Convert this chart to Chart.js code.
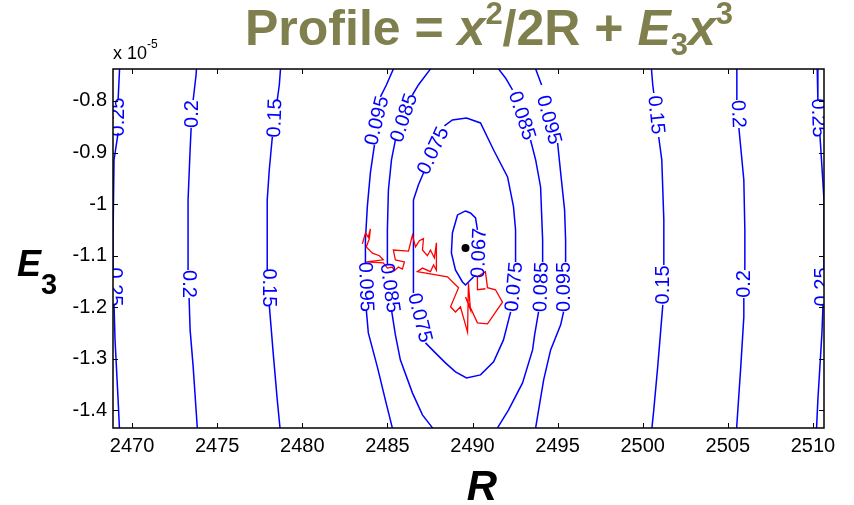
<!DOCTYPE html>
<html>
<head>
<meta charset="utf-8">
<script src="https://cdn.jsdelivr.net/npm/chart.js@4.4.0/dist/chart.umd.min.js"></script>
<style>
  html, body { margin: 0; padding: 0; background: #fff; }
  #wrap { width: 854px; height: 505px; }
</style>
</head>
<body>
<div id="wrap"><canvas id="myChart" width="854" height="505"></canvas></div>
<script>
// axis ticks (E3 in units of 1e-5)
const xTicks = [2470, 2475, 2480, 2485, 2490, 2495, 2500, 2505, 2510];
const yTicks = [-0.8, -0.9, -1, -1.1, -1.2, -1.3, -1.4];

// contour polylines, [R, E3] pairs, null = gap left for the inline label
const c067 = [[2489.59,-1.0132],[2489.12,-1.0209],[2488.82,-1.0558],[2488.76,-1.0946],[2489.0,-1.1275],[2489.41,-1.1508],[2489.59,-1.1566],[2489.88,-1.1469],[2490.06,-1.1411],null,
  [2490.29,-1.05],[2490.18,-1.0267],[2489.88,-1.0171],[2489.59,-1.0132]];
const c075 = [[2486.53,-0.9919],[2486.53,-1.1721],null,
  [2487.24,-1.269],[2487.76,-1.2864],[2488.41,-1.3078],[2489.0,-1.3252],[2489.65,-1.3368],[2490.47,-1.331],[2491.24,-1.3058],[2491.82,-1.2632],[2492.24,-1.2089],null,
  [2492.53,-1.112],[2492.53,-1.05],[2492.41,-1.0054],[2492.06,-0.9473],[2491.24,-0.895],[2490.47,-0.8426],[2489.65,-0.833],[2488.82,-0.8368],[2488.35,-0.8484],null,
  [2487.12,-0.9395],[2486.82,-0.9628],[2486.53,-0.9919]];
const c085L = [[2487.82,-0.711],[2487.53,-0.738],[2486.82,-0.769],[2486.47,-0.7884],null,
  [2485.47,-0.8756],[2485.24,-0.9143],[2485.06,-0.9725],[2485.0,-1.05],[2485.0,-1.1178],null,
  [2485.24,-1.205],[2485.47,-1.2535],[2485.76,-1.3019],[2486.47,-1.3659],[2487.06,-1.4085],[2487.65,-1.4337],[2487.94,-1.4473]];
const c085R = [[2491.24,-0.711],[2491.53,-0.738],[2491.94,-0.7554],[2492.35,-0.7787],null,
  [2493.41,-0.8756],[2493.71,-0.9143],[2494.0,-0.9667],[2494.12,-1.0694],[2494.12,-1.112],null,
  [2493.88,-1.2089],[2493.65,-1.2535],[2493.53,-1.2826],[2492.94,-1.3465],[2492.12,-1.3988],[2491.47,-1.4337],[2491.18,-1.4473]];
const c095L = [[2485.47,-0.7205],[2485.35,-0.738],[2484.94,-0.769],[2484.59,-0.7922],null,
  [2484.24,-0.8853],[2484.0,-0.9395],[2483.82,-1.0054],[2483.71,-1.0694],[2483.71,-1.114],null,
  [2483.76,-1.205],[2483.88,-1.2496],[2484.41,-1.3155],[2484.88,-1.3795],[2485.29,-1.4337],[2485.47,-1.457]];
const c095R = [[2493.41,-0.711],[2493.71,-0.738],[2494.06,-0.769],null,
  [2495.0,-0.8814],[2495.18,-0.9395],[2495.41,-1.0112],[2495.47,-1.0694],[2495.47,-1.112],null,
  [2495.35,-1.2089],[2495.18,-1.2341],[2494.59,-1.2826],[2494.18,-1.3407],[2493.71,-1.4337],[2493.53,-1.457]];
const c15L = [[2478.76,-0.7205],[2478.65,-0.769],[2478.53,-0.7981],null,
  [2478.24,-0.8698],[2478.06,-0.9337],[2477.94,-0.9919],[2477.94,-1.1275],null,
  [2478.06,-1.1953],[2478.18,-1.2438],[2478.29,-1.2884],[2478.53,-1.3795],[2478.76,-1.457]];
const c15R = [[2500.47,-0.7205],[2500.59,-0.769],[2500.65,-0.7845],null,
  [2500.94,-0.8698],[2501.12,-0.9143],[2501.24,-1.0306],[2501.24,-1.1178],null,
  [2501.18,-1.1953],[2501.06,-1.2438],[2500.88,-1.3155],[2500.65,-1.3988],[2500.47,-1.457]];
const c20L = [[2473.82,-0.7205],[2473.76,-0.7496],[2473.59,-0.7981],null,
  [2473.47,-0.8523],[2473.41,-0.895],[2473.29,-0.9919],[2473.29,-1.1275],null,
  [2473.35,-1.1818],[2473.41,-1.2438],[2473.59,-1.3155],[2473.88,-1.457]];
const c20R = [[2505.53,-0.7205],[2505.53,-0.7981],null,
  [2505.65,-0.8523],[2505.94,-0.9531],[2506.0,-1.05],[2506.0,-1.1275],null,
  [2505.94,-1.1818],[2505.94,-1.2186],[2505.76,-1.3155],[2505.47,-1.457]];
const c25L = [[2469.29,-0.7205],[2469.18,-0.7981],null,
  [2469.18,-0.862],[2468.94,-0.9143],[2468.88,-1.0694],[2468.88,-1.1275],null,
  [2468.94,-1.1953],[2469.0,-1.2632],[2469.18,-1.3795],[2469.29,-1.457]];
const c25R = [[2510.24,-0.7205],[2510.29,-0.7981],null,
  [2510.41,-0.8659],[2510.53,-0.9279],[2510.65,-0.9919],[2510.65,-1.1275],null,
  [2510.59,-1.1953],[2510.53,-1.2496],[2510.29,-1.3795],[2510.18,-1.457]];
const contourLines = [c067, c075, c085L, c085R, c095L, c095R, c15L, c15R, c20L, c20R, c25L, c25R];

// inline contour labels: level, R, E3, text angle (deg)
const labelLevel = [0.25, 0.2, 0.15, 0.095, 0.085, 0.075, 0.085, 0.095, 0.15, 0.2, 0.25,
                    0.25, 0.2, 0.15, 0.095, 0.085, 0.075, 0.067, 0.075, 0.085, 0.095, 0.15, 0.2, 0.25];
const labelR = [2469.18, 2473.53, 2478.41, 2484.41, 2486.0, 2487.71, 2492.88, 2494.47, 2500.76, 2505.59, 2510.29,
                2468.94, 2473.29, 2478.0, 2483.71, 2485.12, 2486.88, 2490.41, 2492.47, 2494.06, 2495.41, 2501.24, 2506.0, 2510.59];
const labelE = [-0.831, -0.8252, -0.833, -0.8388, -0.833, -0.8969, -0.829, -0.8368, -0.827, -0.8252, -0.833,
                -1.1605, -1.1547, -1.1624, -1.1605, -1.1624, -1.2205, -1.0946, -1.1605, -1.1605, -1.1605, -1.1566, -1.1547, -1.1605];
const labelAngle = [-90, -90, -88, -76, -72, -65, 72, 75, 84, 88, 88,
                    90, 90, 90, 88, 82, 76, -88, -85, -88, -90, -90, -90, -90];

// search path
const walkR = [2483.53,2483.71,2483.88,2484.0,2483.94,2483.76,2484.12,2484.53,2484.76,2483.76,2484.76,2485.0,2485.29,2485.41,2485.65,2485.88,2486.0,2485.47,2485.35,2486.24,2486.47,2486.65,2486.88,2487.12,2487.06,2487.35,2487.53,2487.76,2487.88,2487.88,2487.71,2487.53,2487.06,2486.76,2488.53,2489.18,2488.71,2489.0,2489.29,2489.71,2489.76,2489.88,2489.59,2490.29,2490.88,2491.76,2491.35,2490.88,2490.76,2490.29,2490.29,2490.76];
const walkE = [-1.077,-1.056,-1.064,-1.048,-1.067,-1.083,-1.095,-1.100,-1.108,-1.112,-1.114,-1.124,-1.122,-1.129,-1.122,-1.126,-1.112,-1.108,-1.089,-1.091,-1.060,-1.083,-1.071,-1.067,-1.089,-1.100,-1.089,-1.104,-1.075,-1.128,-1.118,-1.131,-1.124,-1.131,-1.141,-1.162,-1.199,-1.209,-1.199,-1.248,-1.153,-1.205,-1.180,-1.230,-1.232,-1.190,-1.166,-1.162,-1.131,-1.141,-1.166,-1.164];

// best fit
const bestR = [2489.59];
const bestE = [-1.085];

const FONT = "'Liberation Sans', Arial, Helvetica, sans-serif";
const OLIVE = '#80804f';

const toPts = arr => arr.map(p => p ? { x: p[0], y: p[1] } : { x: NaN, y: NaN });

const datasets = [
  {
    data: bestR.map((r, i) => ({ x: r, y: bestE[i] })),
    pointRadius: 4, pointBackgroundColor: '#000', pointBorderWidth: 0, showLine: false, order: 0
  },
  {
    data: walkR.map((r, i) => ({ x: r, y: walkE[i] })),
    showLine: true, borderColor: '#ff0000', borderWidth: 1.3, pointRadius: 0, order: 1
  }
].concat(contourLines.map(c => ({
  data: toPts(c),
  showLine: true, borderColor: '#0000ff', borderWidth: 1.5, pointRadius: 0, spanGaps: false, order: 2
})));

function drawRuns(ctx, x, y, runs) {
  runs.forEach(r => {
    ctx.font = r[1];
    ctx.fillText(r[0], x, y + r[2]);
    x += ctx.measureText(r[0]).width;
  });
  return x;
}

const decorations = {
  id: 'decorations',
  afterDatasetsDraw(chart) {
    const { ctx, chartArea: a, scales: { x, y } } = chart;
    ctx.save();
    ctx.beginPath();
    ctx.rect(a.left, a.top, a.right - a.left, a.bottom - a.top);
    ctx.clip();
    ctx.fillStyle = '#0000ff';
    ctx.font = '20px ' + FONT;
    ctx.textAlign = 'center';
    ctx.textBaseline = 'middle';
    labelLevel.forEach((lv, i) => {
      ctx.save();
      ctx.translate(x.getPixelForValue(labelR[i]), y.getPixelForValue(labelE[i]));
      ctx.rotate(labelAngle[i] * Math.PI / 180);
      ctx.fillText(String(lv), 0, 0);
      ctx.restore();
    });
    ctx.restore();
  },
  afterDraw(chart) {
    const { ctx, chartArea: a, scales: { x, y } } = chart;
    ctx.save();
    // box with inward ticks on all sides
    ctx.strokeStyle = '#000';
    ctx.lineWidth = 1.5;
    ctx.strokeRect(a.left, a.top, a.right - a.left, a.bottom - a.top);
    ctx.lineWidth = 1;
    ctx.beginPath();
    xTicks.forEach(v => {
      const px = Math.round(x.getPixelForValue(v)) + 0.5;
      ctx.moveTo(px, a.bottom); ctx.lineTo(px, a.bottom - 5);
      ctx.moveTo(px, a.top); ctx.lineTo(px, a.top + 5);
    });
    yTicks.forEach(v => {
      const py = Math.round(y.getPixelForValue(v)) + 0.5;
      ctx.moveTo(a.left, py); ctx.lineTo(a.left + 5, py);
      ctx.moveTo(a.right, py); ctx.lineTo(a.right - 5, py);
    });
    ctx.stroke();

    ctx.textAlign = 'left';
    ctx.textBaseline = 'alphabetic';
    // exponent note
    ctx.fillStyle = '#000';
    drawRuns(ctx, 113, 59, [['x 10', '18px ' + FONT, 0], ['-5', '12px ' + FONT, -11]]);

    // title
    ctx.fillStyle = OLIVE;
    const B = 'bold 50px ' + FONT, BI = 'italic bold 50px ' + FONT, S = 'bold 31px ' + FONT;
    drawRuns(ctx, 245, 45, [
      ['Profile = ', B, 0], ['x', BI, 0], ['2', S, -21], ['/2R + ', B, 0],
      ['E', BI, 0], ['3', S, 10], ['x', BI, 0], ['3', S, -21]
    ]);

    // axis titles
    ctx.fillStyle = '#000';
    drawRuns(ctx, 17, 276, [['E', 'italic bold 36px ' + FONT, 0], ['3', 'bold 29px ' + FONT, 18]]);
    ctx.textAlign = 'center';
    ctx.font = 'italic bold 42px ' + FONT;
    ctx.fillText('R', 482, 500);
    ctx.restore();
  }
};

new Chart(document.getElementById('myChart'), {
  type: 'scatter',
  data: { datasets },
  options: {
    responsive: false,
    animation: false,
    layout: { padding: { top: 69, right: 30, left: 0, bottom: 0 } },
    plugins: { legend: { display: false }, tooltip: { enabled: false } },
    scales: {
      x: {
        type: 'linear', min: 2468.88, max: 2510.65,
        grid: { display: false, drawTicks: false },
        border: { display: false },
        afterBuildTicks: s => { s.ticks = xTicks.map(v => ({ value: v })); },
        afterFit: s => { s.height = 77; },
        ticks: {
          color: '#000', padding: 6, maxRotation: 0, autoSkip: false, font: { family: FONT, size: 20 },
          callback: v => String(v)
        }
      },
      y: {
        type: 'linear', min: -1.434, max: -0.738,
        grid: { display: false, drawTicks: false },
        border: { display: false },
        afterBuildTicks: s => { s.ticks = yTicks.map(v => ({ value: v })); },
        afterFit: s => { s.width = 113; },
        ticks: {
          color: '#000', padding: 6, autoSkip: false, font: { family: FONT, size: 20 },
          callback: v => String(+v.toFixed(2))
        }
      }
    }
  },
  plugins: [decorations]
});
</script>
</body>
</html>
